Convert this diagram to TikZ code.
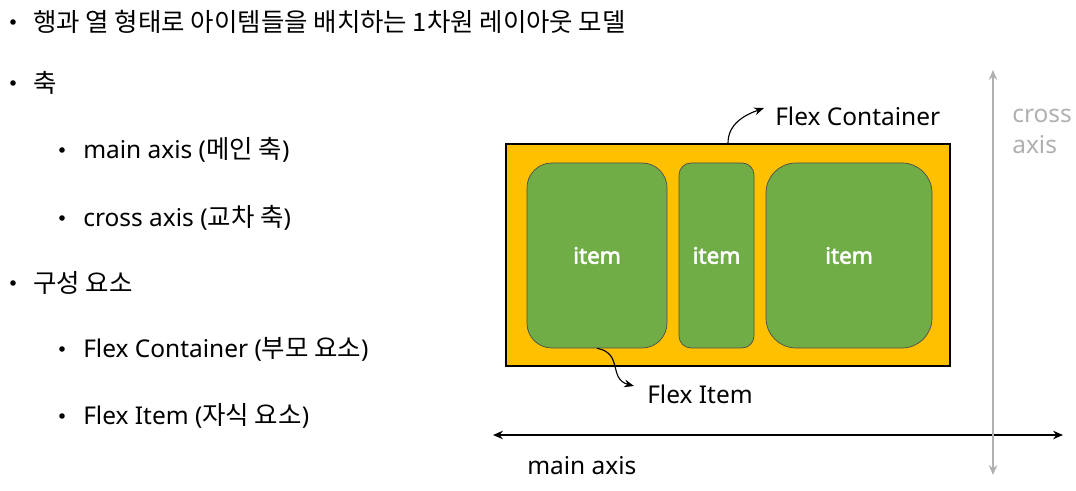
\documentclass[tikz,border=0pt]{standalone}
\usepackage{fontspec}
\setmainfont{Noto Sans}
\newfontfamily\kr[Scale=1.04]{Noto Sans CJK KR}
\newfontfamily\itemfont[FakeBold=2.5]{Noto Sans}
\usepackage{tikz}
\usetikzlibrary{arrows.meta,calc,positioning,fit}
\definecolor{boxyellow}{HTML}{FFC000}
\definecolor{itemgreen}{HTML}{70AD47}
\definecolor{axisgray}{HTML}{B0B0B0}

\begin{document}
\begin{tikzpicture}[x=0.025cm,y=0.025cm,
  txt/.style={font=\fontsize{17.4pt}{20pt}\selectfont,inner sep=0pt,anchor=west},
  flexbox/.style={draw=black,line width=1.4pt,fill=boxyellow,inner sep=0pt},
  flexitem/.style={draw=black!70,line width=0.5pt,fill=itemgreen,inner sep=0pt},
  itemtext/.style={text=white,inner sep=0pt,font=\itemfont\fontsize{16pt}{18pt}\selectfont},
  pointer/.style={-{Stealth[length=7pt,width=5.5pt]},thick}]
\useasboundingbox (0,0) rectangle (1076,491);
% list on the left
\foreach \n/\lv/\yy/\txt in {l1/0/469/{\kr 행과 열 형태로 아이템들을 배치하는 1차원 레이아웃 모델},
  l2/0/408/{\kr 축},
  l3/1/341/{main axis ({\kr 메인 축})},
  l4/1/273/{cross axis ({\kr 교차 축})},
  l5/0/208/{\kr 구성 요소},
  l6/1/142/{Flex Container ({\kr 부모 요소})},
  l7/1/75/{Flex Item ({\kr 자식 요소})}}
{
  \fill ({13+49*\lv},\yy) circle (2.8);
  \node[txt] (\n) at ({33+50*\lv},\yy) {\txt};
}
% container and items
\node[flexbox,fit={(506,347) (950,125)}] (box) {};
\node[flexitem,rounded corners=0.62cm,fit={(527,328) (667,143)}] (i1) {};
\node[flexitem,rounded corners=0.3cm,fit={(679,328) (754,143)}] (i2) {};
\node[flexitem,rounded corners=0.75cm,fit={(766,328) (932,143)}] (i3) {};
\foreach \i in {1,2,3}
  \node[itemtext] (t\i) at (i\i.center) {item};
\node[txt] (fc) at (775,375) {Flex Container};
\node[txt] (fi) at (647,97) {Flex Item};
\draw[pointer] (box.north) to[out=90,in=200] ($(fc.west)+(-11,8)$);
\draw[pointer] (i1.south) to[out=-10,in=165,looseness=1.3] ($(fi.west)+(-13,8)$);
% axes
\coordinate (ml) at (493,56);
\coordinate (mr) at (1063,56);
\coordinate (ct) at (993,421);
\coordinate (cb) at (993,16);
\draw[{Stealth[length=7pt,width=6pt]}-{Stealth[length=7pt,width=6pt]},line width=1.4pt] (ml) -- (mr);
\draw[axisgray,{Stealth[length=7pt,width=6pt]}-{Stealth[length=7pt,width=6pt]},line width=1.4pt] (cb) -- (ct);
\node[txt] (ma) at (527,25) {main axis};
\node[txt,text=axisgray,align=left,font=\fontsize{17.4pt}{22pt}\selectfont] (ca) at (1012,360) {cross\\axis};
\end{tikzpicture}
\end{document}
